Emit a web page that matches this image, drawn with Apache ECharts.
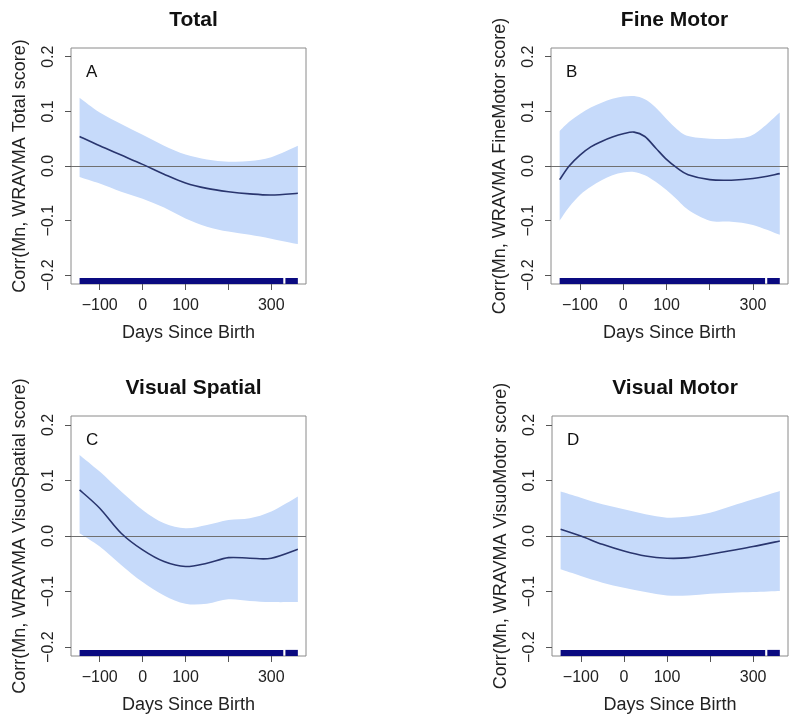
<!DOCTYPE html>
<html><head><meta charset="utf-8">
<script src="https://cdn.jsdelivr.net/npm/echarts@6/dist/echarts.min.js"></script>
<style>html,body{margin:0;padding:0;background:#fff}#c{width:797px;height:726px}</style>
</head><body><div id="c"></div>
<script>
// ---- data ----
const panelTitles = ['Total', 'Fine Motor', 'Visual Spatial', 'Visual Motor'];
const panelLetters = ['A', 'B', 'C', 'D'];
const yAxisTitles = ['Corr(Mn, WRAVMA Total score)', 'Corr(Mn, WRAVMA FineMotor score)',
  'Corr(Mn, WRAVMA VisuoSpatial score)', 'Corr(Mn, WRAVMA VisuoMotor score)'];
const xAxisTitle = 'Days Since Birth';
const xTickValues = [-100, 0, 100, 200, 300];
const xTickLabels = [-100, 0, 100, 300];
const yTickValues = [-0.2, -0.1, 0, 0.1, 0.2];

const xDays = [-147, -100, -50, 0, 50, 100, 150, 200, 250, 300, 362];
const xDaysFine = [-147, -125, -100, -75, -50, -25, 0, 25, 50, 75, 100, 125, 150, 200, 250, 300, 362];

const totalMean  = [0.054, 0.037, 0.020, 0.003, -0.015, -0.031, -0.041, -0.047, -0.051, -0.053, -0.050];
const totalUpper = [0.125, 0.098, 0.077, 0.057, 0.037, 0.021, 0.012, 0.008, 0.009, 0.016, 0.037];
const totalLower = [-0.020, -0.032, -0.047, -0.060, -0.076, -0.096, -0.111, -0.120, -0.126, -0.133, -0.143];

const fineMean  = [-0.025, 0.000, 0.020, 0.035, 0.045, 0.053, 0.059, 0.062, 0.054, 0.033, 0.012, -0.004, -0.016, -0.025, -0.026, -0.023, -0.014];
const fineUpper = [0.064, 0.081, 0.095, 0.107, 0.116, 0.123, 0.127, 0.128, 0.122, 0.107, 0.086, 0.067, 0.055, 0.050, 0.050, 0.057, 0.098];
const fineLower = [-0.100, -0.075, -0.053, -0.038, -0.026, -0.017, -0.012, -0.011, -0.017, -0.029, -0.044, -0.062, -0.080, -0.100, -0.102, -0.108, -0.126];

const spatialMean  = [0.083, 0.050, 0.005, -0.025, -0.046, -0.055, -0.049, -0.039, -0.040, -0.040, -0.024];
const spatialUpper = [0.146, 0.116, 0.080, 0.047, 0.023, 0.014, 0.020, 0.029, 0.032, 0.044, 0.071];
const spatialLower = [0.005, -0.019, -0.052, -0.083, -0.107, -0.122, -0.122, -0.114, -0.117, -0.119, -0.119];

const motorMean  = [0.012, 0.000, -0.015, -0.027, -0.036, -0.040, -0.039, -0.033, -0.026, -0.019, -0.009];
const motorUpper = [0.080, 0.069, 0.057, 0.048, 0.039, 0.033, 0.035, 0.042, 0.054, 0.066, 0.081];
const motorLower = [-0.060, -0.072, -0.084, -0.093, -0.101, -0.107, -0.107, -0.104, -0.102, -0.101, -0.099];

// rug of observation days (two runs separated by a small gap)
const rugStart = [-147, 333];
const rugEnd   = [328, 362];
const rugTop = -0.205;

// ---- layout / style ----
const FONT = '"Liberation Sans", Arial, sans-serif';
const yMin = -0.216, yMax = 0.216;
const xMin = -167, xMax = 381;
const grids = [
  {left: 71, top: 48, width: 235, height: 236},
  {left: 551, top: 48, width: 237, height: 236},
  {left: 71, top: 416, width: 235, height: 240},
  {left: 552, top: 416, width: 236, height: 240}
];
const panels = [
  {x: xDays, m: totalMean, u: totalUpper, l: totalLower},
  {x: xDaysFine, m: fineMean, u: fineUpper, l: fineLower},
  {x: xDays, m: spatialMean, u: spatialUpper, l: spatialLower},
  {x: xDays, m: motorMean, u: motorUpper, l: motorLower}
];

// smooth path through pixel points (Catmull-Rom as cubic Bezier)
function curveSegs(pts) {
  let d = '';
  for (let i = 0; i < pts.length - 1; i++) {
    const p0 = pts[i - 1] || pts[i], p1 = pts[i], p2 = pts[i + 1], p3 = pts[i + 2] || p2;
    const c1 = [p1[0] + (p2[0] - p0[0]) / 6, p1[1] + (p2[1] - p0[1]) / 6];
    const c2 = [p2[0] - (p3[0] - p1[0]) / 6, p2[1] - (p3[1] - p1[1]) / 6];
    d += 'C' + c1[0] + ' ' + c1[1] + ' ' + c2[0] + ' ' + c2[1] + ' ' + p2[0] + ' ' + p2[1];
  }
  return d;
}

const option = {
  animation: false,
  backgroundColor: '#fff',
  title: [], grid: [], xAxis: [], yAxis: [], series: []
};

panels.forEach((p, i) => {
  const g = grids[i];
  option.grid.push(Object.assign({show: true, borderColor: '#8a8a8a', borderWidth: 1, backgroundColor: 'transparent'}, g));
  option.title.push({
    text: panelTitles[i], left: g.left + g.width / 2, top: g.top - 43, textAlign: 'center',
    textStyle: {fontFamily: FONT, fontSize: 21, fontWeight: 'bold', color: '#111'}
  });
  option.title.push({
    text: panelLetters[i], left: g.left + 10, top: g.top + 11,
    textStyle: {fontFamily: FONT, fontSize: 17, fontWeight: 'normal', color: '#111'}
  });
  option.xAxis.push({
    type: 'value', gridIndex: i, min: xMin, max: xMax, position: 'bottom',
    name: xAxisTitle, nameLocation: 'middle', nameGap: 40,
    nameTextStyle: {fontFamily: FONT, fontSize: 18, color: '#222'},
    axisLine: {show: false, onZero: false},
    axisTick: {show: true, length: 6, customValues: xTickValues, lineStyle: {color: '#555'}},
    axisLabel: {customValues: xTickLabels, margin: 14, fontFamily: FONT, fontSize: 16, color: '#222',
      formatter: v => (v < 0 ? '\u2212' + Math.abs(v) : String(v))},
    splitLine: {show: false}
  });
  option.yAxis.push({
    type: 'value', gridIndex: i, min: yMin, max: yMax, position: 'left',
    name: yAxisTitles[i], nameLocation: 'middle', nameGap: 42, nameRotate: 90,
    nameTextStyle: {fontFamily: FONT, fontSize: 18, color: '#222'},
    axisLine: {show: false, onZero: false},
    axisTick: {show: true, length: 6, customValues: yTickValues, lineStyle: {color: '#555'}},
    axisLabel: {customValues: yTickValues, rotate: 90, margin: 14, fontFamily: FONT, fontSize: 16, color: '#222',
      formatter: v => (v < 0 ? '\u2212' : '') + Math.abs(v).toFixed(1)},
    splitLine: {show: false}
  });
  // confidence band (polygon between upper and lower curves)
  option.series.push({
    type: 'custom', xAxisIndex: i, yAxisIndex: i, silent: true, z: 1,
    data: [[p.x[0], p.m[0]]],
    renderItem: (params, api) => {
      const up = p.x.map((x, k) => api.coord([x, p.u[k]]));
      const lo = p.x.map((x, k) => api.coord([x, p.l[k]])).reverse();
      const d = 'M' + up[0][0] + ' ' + up[0][1] + curveSegs(up) +
        'L' + lo[0][0] + ' ' + lo[0][1] + curveSegs(lo) + 'Z';
      return {type: 'path', shape: {pathData: d}, style: {fill: '#c6dafa', stroke: null}};
    }
  });
  // zero reference line
  option.series.push({
    type: 'line', xAxisIndex: i, yAxisIndex: i, symbol: 'none', silent: true, z: 2,
    data: [], lineStyle: {opacity: 0},
    markLine: {silent: true, symbol: 'none', label: {show: false}, z: 2,
      lineStyle: {color: '#707070', width: 1, type: 'solid'}, data: [{yAxis: 0}]}
  });
  // mean curve
  option.series.push({
    type: 'custom', xAxisIndex: i, yAxisIndex: i, silent: true, z: 3,
    data: [[p.x[0], p.m[0]]],
    renderItem: (params, api) => {
      const pts = p.x.map((x, k) => api.coord([x, p.m[k]]));
      const d = 'M' + pts[0][0] + ' ' + pts[0][1] + curveSegs(pts);
      return {type: 'path', shape: {pathData: d},
        style: {fill: null, stroke: '#29356e', lineWidth: 1.6}};
    }
  });
  // rug
  option.series.push({
    type: 'custom', xAxisIndex: i, yAxisIndex: i, silent: true, z: 4,
    data: rugStart.map((s, k) => [s, rugEnd[k]]),
    renderItem: (params, api) => {
      const a = api.coord([api.value(0), rugTop]);
      const b = api.coord([api.value(1), yMin]);
      return {type: 'rect', shape: {x: a[0], y: a[1], width: b[0] - a[0], height: b[1] - a[1]},
        style: {fill: '#0a0a80'}};
    }
  });
});

const chart = echarts.init(document.getElementById('c'), null, {renderer: 'canvas'});
chart.setOption(option);
</script>
</body></html>
